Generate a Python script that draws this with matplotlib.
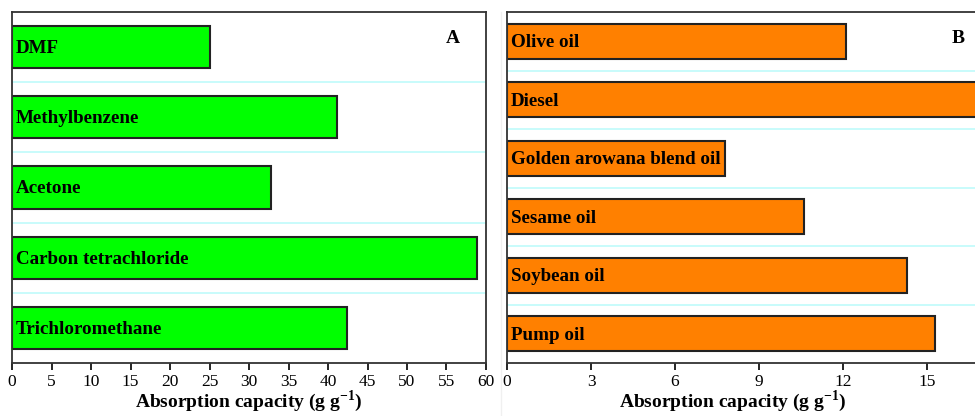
import matplotlib
matplotlib.use('Agg')
import matplotlib.pyplot as plt

plt.rcParams['font.family'] = 'Liberation Serif'
plt.rcParams['mathtext.fontset'] = 'custom'
plt.rcParams['mathtext.rm'] = 'Liberation Serif'
plt.rcParams['mathtext.bf'] = 'Liberation Serif:bold'

# solvents (panel A), top to bottom
solvents = ['DMF', 'Methylbenzene', 'Acetone', 'Carbon tetrachloride', 'Trichloromethane']
solvent_cap = [25.1, 41.1, 32.8, 58.9, 42.4]

# oils (panel B), top to bottom
oils = ['Olive oil', 'Diesel', 'Golden arowana blend oil', 'Sesame oil', 'Soybean oil', 'Pump oil']
oil_cap = [12.1, 17.5, 7.8, 10.6, 14.3, 15.3]

W, H = 975, 416
fig = plt.figure(figsize=(W / 100, H / 100), dpi=100)

axA = fig.add_axes([12 / W, (H - 363) / H, (486 - 12) / W, (363 - 12) / H])
axB = fig.add_axes([507 / W, (H - 363) / H, (1011 - 507) / W, (363 - 12) / H])

xlabel = r'Absorption capacity (g g$^{\mathbf{-1}}$)'


def draw_panel(ax, names, vals, color, xmax, xticks, letter, letter_x, label_x):
    n = len(names)
    ys = list(range(n))
    for y in range(n - 1):
        ax.axhline(y + 0.5, color='#c4fbfb', lw=1.3, zorder=1)
    ax.barh(ys, vals, height=0.6, color=color, edgecolor='#222222', lw=1.5, zorder=2)
    for y, name in zip(ys, names):
        ax.annotate(name, (0, y), xytext=(3, -1), textcoords='offset points',
                    ha='left', va='center', fontsize=13.7, fontweight='bold', zorder=3)
    ax.set_ylim(n - 0.5, -0.5)
    ax.set_xlim(0, xmax)
    ax.set_yticks([])
    ax.set_xticks(xticks)
    ax.tick_params(axis='x', direction='out', length=5, width=1.2, labelsize=12.5, pad=3)
    for s in ax.spines.values():
        s.set_linewidth(1.3)
        s.set_color('#333333')
    ax.text(letter_x, 0.925, letter, transform=ax.transAxes,
            fontsize=14, fontweight='bold', ha='center', va='center')
    ax.set_xlabel(xlabel, fontsize=14, fontweight='bold', va='bottom')
    ax.xaxis.set_label_coords(label_x, -0.145)


draw_panel(axA, solvents, solvent_cap, '#00ff00', 60, range(0, 61, 5), 'A', 0.93, 0.5)
draw_panel(axB, oils, oil_cap, '#ff8000', 18, range(0, 16, 3), 'B', 0.895, 0.448)

fig.add_artist(plt.Line2D([501 / W, 501 / W], [0.0, 0.97], color='#f0f0f0', lw=1))

fig.savefig('out.png', dpi=100)
